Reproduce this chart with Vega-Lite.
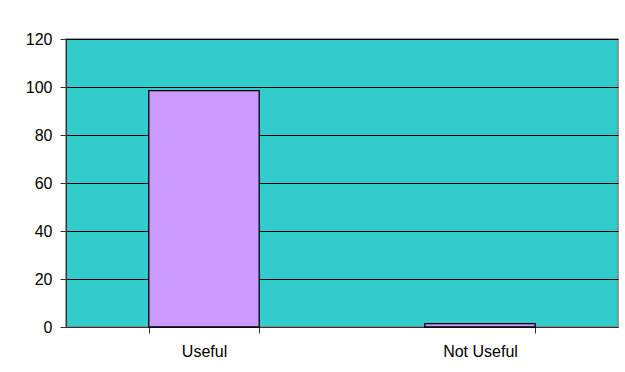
{
  "$schema": "https://vega.github.io/schema/vega-lite/v6.json",
  "width": 552,
  "height": 288,
  "autosize": {"type": "none"},
  "padding": {"left": 66, "top": 39, "right": 7, "bottom": 45},
  "background": "white",
  "data": {"values": [
    {"category": "Useful", "value": 98.5},
    {"category": "Not Useful", "value": 1.4}
  ]},
  "mark": {"type": "bar", "fill": "#CC99FF", "stroke": "#000000", "strokeWidth": 1.3},
  "encoding": {
    "x": {
      "field": "category", "type": "nominal", "sort": null,
      "scale": {"paddingInner": 0.6, "paddingOuter": 0.3},
      "axis": {
        "title": null, "labelAngle": 0, "tickBand": "extent",
        "domainColor": "#333333", "tickColor": "#333333", "tickSize": 6,
        "labelPadding": 10, "labelFont": "Liberation Sans", "labelFontSize": 16,
        "labelColor": "#000000", "grid": false
      }
    },
    "y": {
      "field": "value", "type": "quantitative",
      "scale": {"domain": [0, 120], "nice": false},
      "axis": {
        "title": null, "values": [0, 20, 40, 60, 80, 100, 120],
        "domainColor": "#333333", "tickColor": "#333333", "tickSize": 6,
        "labelPadding": 8, "labelFont": "Liberation Sans", "labelFontSize": 16,
        "labelColor": "#000000", "grid": true, "gridColor": "#000000", "gridOpacity": 1, "gridWidth": 1
      }
    }
  },
  "config": {
    "view": {"fill": "#33CCCC", "stroke": "#808080", "strokeWidth": 1.5}
  }
}
